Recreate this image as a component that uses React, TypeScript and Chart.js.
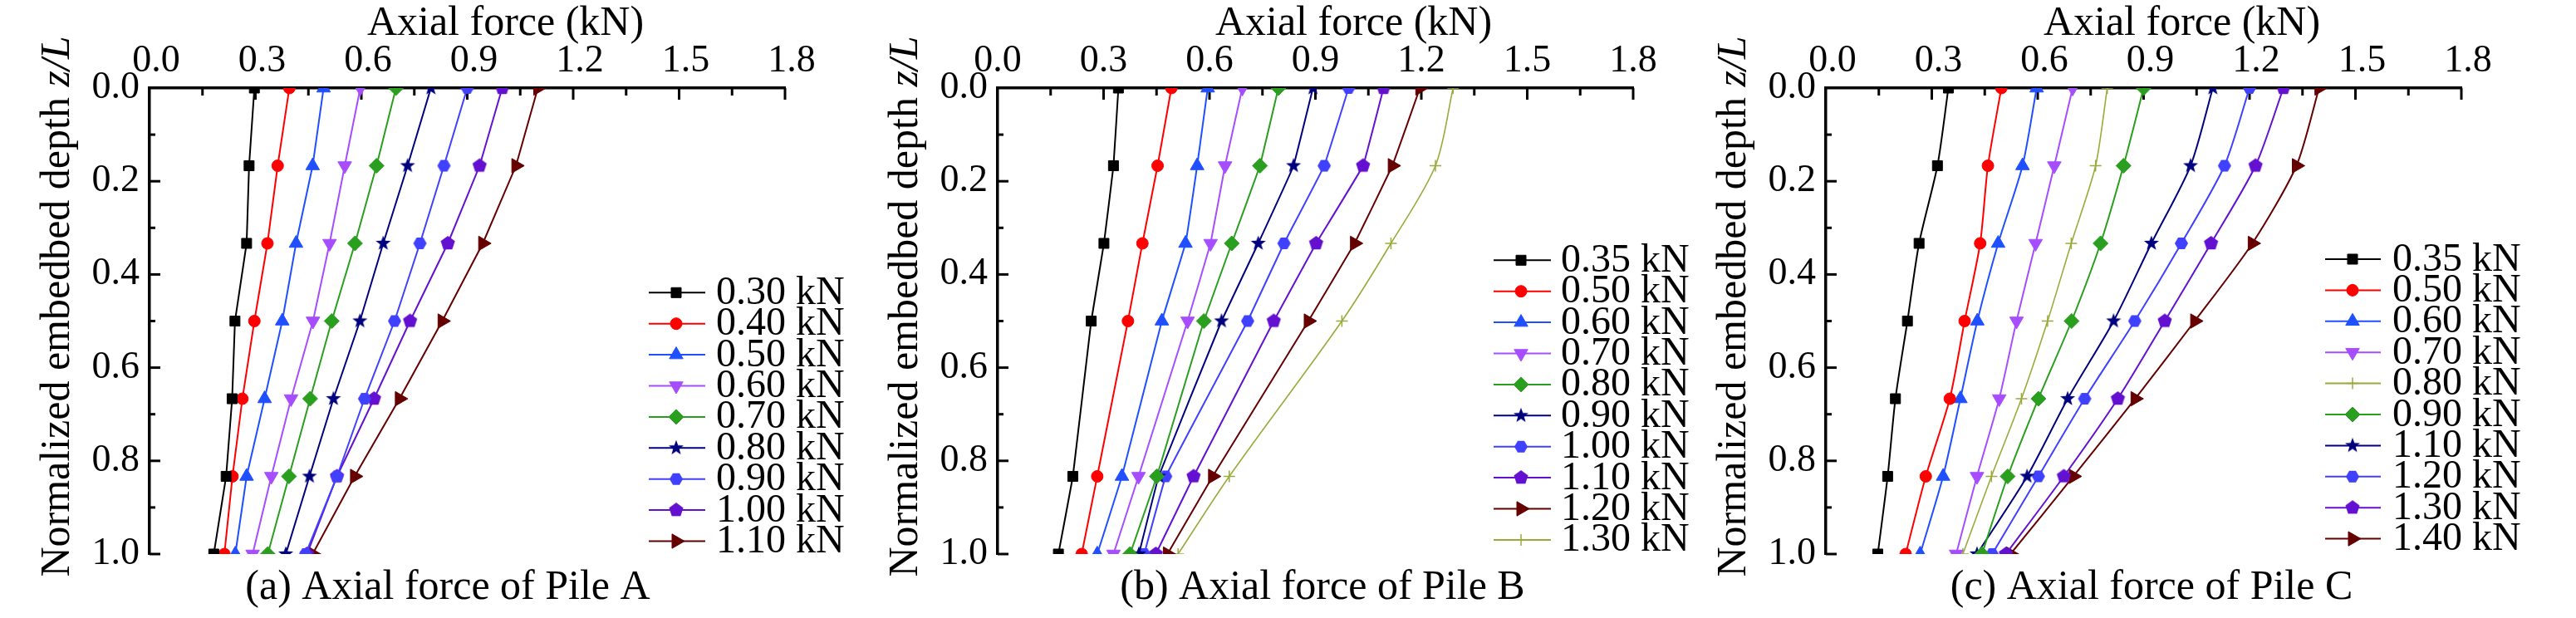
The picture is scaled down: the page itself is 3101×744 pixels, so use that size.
import React, { useEffect, useRef } from 'react';
import { Chart, registerables } from 'chart.js';
import { drawPoint } from 'chart.js/helpers';

Chart.register(...registerables);

const SERIF = "'Liberation Serif', 'Times New Roman', serif";

// ---------- axes ----------
const X_TICKS = [0, 0.3, 0.6, 0.9, 1.2, 1.5, 1.8];
const X_MINOR = [0.15, 0.45, 0.75, 1.05, 1.35, 1.65];
const Y_TICKS = [0, 0.2, 0.4, 0.6, 0.8, 1.0];
const Y_MINOR = [0.1, 0.3, 0.5, 0.7, 0.9];

// normalized embedded depth z/L of the gauges
const DEPTH_7 = [0, 0.1667, 0.3333, 0.5, 0.6667, 0.8333, 1.0];
const DEPTH_6 = [0, 0.1667, 0.3333, 0.5, 0.8333, 1.0];

// ---------- Pile A ----------
const A_LABELS = ['0.30 kN', '0.40 kN', '0.50 kN', '0.60 kN', '0.70 kN', '0.80 kN', '0.90 kN', '1.00 kN', '1.10 kN'];
const A_030 = [0.297, 0.282, 0.275, 0.242, 0.234, 0.217, 0.182];
const A_040 = [0.396, 0.363, 0.334, 0.297, 0.263, 0.235, 0.212];
const A_050 = [0.493, 0.462, 0.415, 0.376, 0.326, 0.275, 0.243];
const A_060 = [0.597, 0.553, 0.510, 0.463, 0.401, 0.345, 0.292];
const A_070 = [0.698, 0.643, 0.582, 0.516, 0.455, 0.395, 0.335];
const A_080 = [0.797, 0.731, 0.662, 0.596, 0.521, 0.453, 0.386];
const A_090 = [0.900, 0.834, 0.766, 0.694, 0.609, 0.531, 0.442];
const A_100 = [0.999, 0.935, 0.845, 0.738, 0.636, 0.531, 0.446];
const A_110 = [1.100, 1.038, 0.944, 0.829, 0.708, 0.581, 0.462];

// ---------- Pile B ----------
const B_LABELS = ['0.35 kN', '0.50 kN', '0.60 kN', '0.70 kN', '0.80 kN', '0.90 kN', '1.00 kN', '1.10 kN', '1.20 kN', '1.30 kN'];
const B_035 = [0.342, 0.328, 0.301, 0.265, 0.213, 0.172];
const B_050 = [0.492, 0.453, 0.410, 0.369, 0.282, 0.238];
const B_060 = [0.595, 0.565, 0.532, 0.465, 0.352, 0.282];
const B_070 = [0.693, 0.644, 0.603, 0.538, 0.399, 0.328];
const B_080 = [0.795, 0.743, 0.663, 0.584, 0.451, 0.375];
const B_090 = [0.893, 0.838, 0.738, 0.634, 0.456, 0.400];
const B_100 = [0.994, 0.925, 0.811, 0.708, 0.476, 0.415];
const B_110 = [1.093, 1.035, 0.902, 0.782, 0.555, 0.448];
const B_120 = [1.196, 1.118, 1.011, 0.880, 0.609, 0.481];
const B_130 = [1.290, 1.240, 1.114, 0.975, 0.656, 0.511];

// ---------- Pile C ----------
const C_LABELS = ['0.35 kN', '0.50 kN', '0.60 kN', '0.70 kN', '0.80 kN', '0.90 kN', '1.10 kN', '1.20 kN', '1.30 kN', '1.40 kN'];
const C_035 = [0.347, 0.316, 0.264, 0.231, 0.197, 0.175, 0.147];
const C_050 = [0.497, 0.459, 0.437, 0.393, 0.351, 0.283, 0.226];
const C_060 = [0.597, 0.557, 0.488, 0.429, 0.381, 0.332, 0.267];
const C_070 = [0.699, 0.647, 0.594, 0.540, 0.491, 0.428, 0.369];
const C_080 = [0.797, 0.764, 0.695, 0.628, 0.554, 0.469, 0.388];
const C_090 = [0.900, 0.843, 0.778, 0.696, 0.602, 0.515, 0.442];
const C_110 = [1.096, 1.033, 0.922, 0.815, 0.685, 0.570, 0.428];
const C_120 = [1.200, 1.129, 1.007, 0.875, 0.733, 0.602, 0.471];
const C_130 = [1.296, 1.217, 1.091, 0.960, 0.827, 0.674, 0.510];
const C_140 = [1.397, 1.333, 1.208, 1.045, 0.876, 0.701, 0.523];

// ---------- styles ----------
const COL = {
  black: '#000000',
  red: '#FF0000',
  blue: '#1F4FFF',
  violet: '#A64DFF',
  green: '#2A9E1E',
  navy: '#00007F',
  blue2: '#4040FF',
  purple: '#6410D0',
  maroon: '#660000',
  olive: '#9AAA3A',
};

type Shape = 'square' | 'circle' | 'triUp' | 'triDown' | 'diamond' | 'star' | 'hexagon' | 'pentagon' | 'triRight' | 'plus';

function shapeCanvas(kind: Shape, color: string): HTMLCanvasElement {
  const s = 22;
  const c = document.createElement('canvas');
  c.width = s;
  c.height = s;
  const g = c.getContext('2d')!;
  g.fillStyle = color;
  g.translate(s / 2, s / 2);
  g.beginPath();
  if (kind === 'star') {
    for (let k = 0; k < 10; k++) {
      const r = k % 2 ? 3.9 : 9.5;
      const a = -Math.PI / 2 + (k * Math.PI) / 5;
      const px = r * Math.cos(a), py = r * Math.sin(a);
      if (k === 0) g.moveTo(px, py); else g.lineTo(px, py);
    }
  } else if (kind === 'hexagon') {
    for (let k = 0; k < 6; k++) {
      const a = (k * Math.PI) / 3;
      const px = 8 * Math.cos(a), py = 8 * Math.sin(a);
      if (k === 0) g.moveTo(px, py); else g.lineTo(px, py);
    }
  } else {
    for (let k = 0; k < 5; k++) {
      const a = -Math.PI / 2 + (k * 2 * Math.PI) / 5;
      const px = 9 * Math.cos(a), py = 9 * Math.sin(a);
      if (k === 0) g.moveTo(px, py); else g.lineTo(px, py);
    }
  }
  g.closePath();
  g.fill();
  return c;
}

function pointOpts(kind: Shape, color: string) {
  switch (kind) {
    case 'square': return { pointStyle: 'rect', radius: 8.5, rotation: 0, borderWidth: 1 };
    case 'circle': return { pointStyle: 'circle', radius: 7, rotation: 0, borderWidth: 1 };
    case 'triUp': return { pointStyle: 'triangle', radius: 9.5, rotation: 0, borderWidth: 1 };
    case 'triDown': return { pointStyle: 'triangle', radius: 9.5, rotation: 180, borderWidth: 1 };
    case 'diamond': return { pointStyle: 'rectRot', radius: 9, rotation: 0, borderWidth: 1 };
    case 'triRight': return { pointStyle: 'triangle', radius: 10, rotation: 90, borderWidth: 1 };
    case 'plus': return { pointStyle: 'cross', radius: 7, rotation: 0, borderWidth: 1.5 };
    default: return { pointStyle: shapeCanvas(kind, color) as any, radius: 9, rotation: 0, borderWidth: 0 };
  }
}

type Series = { label: string; values: number[]; color: string; shape: Shape; tension: number; width: number };

type Panel = {
  canvasLeft: number;
  canvasWidth: number;
  plotLeft: number;
  plotRight: number;
  labelOffset: number;
  legendLineX1: number;
  legendLineX2: number;
  legendMarkerX: number;
  legendTextX: number;
  legendTop: number;
  captionX: number;
  caption: string;
  depths: number[];
  series: Series[];
};

const PLOT_TOP = 106;
const PLOT_BOTTOM = 667;
const H = 744;

function buildPanels(): Panel[] {
  const a = [A_030, A_040, A_050, A_060, A_070, A_080, A_090, A_100, A_110];
  const aCol = [COL.black, COL.red, COL.blue, COL.violet, COL.green, COL.navy, COL.blue2, COL.purple, COL.maroon];
  const aShape: Shape[] = ['square', 'circle', 'triUp', 'triDown', 'diamond', 'star', 'hexagon', 'pentagon', 'triRight'];

  const b = [B_035, B_050, B_060, B_070, B_080, B_090, B_100, B_110, B_120, B_130];
  const bCol = [COL.black, COL.red, COL.blue, COL.violet, COL.green, COL.navy, COL.blue2, COL.purple, COL.maroon, COL.olive];
  const bShape: Shape[] = ['square', 'circle', 'triUp', 'triDown', 'diamond', 'star', 'hexagon', 'pentagon', 'triRight', 'plus'];

  const c = [C_035, C_050, C_060, C_070, C_080, C_090, C_110, C_120, C_130, C_140];
  const cCol = [COL.black, COL.red, COL.blue, COL.violet, COL.olive, COL.green, COL.navy, COL.blue2, COL.purple, COL.maroon];
  const cShape: Shape[] = ['square', 'circle', 'triUp', 'triDown', 'plus', 'diamond', 'star', 'hexagon', 'pentagon', 'triRight'];

  return [
    {
      canvasLeft: 0, canvasWidth: 1040, plotLeft: 180, plotRight: 945, labelOffset: 8,
      legendLineX1: 781, legendLineX2: 849, legendMarkerX: 814, legendTextX: 862, legendTop: 352.3,
      captionX: 539, caption: '(a) Axial force of Pile A', depths: DEPTH_7,
      series: a.map((v, i) => ({ label: A_LABELS[i], values: v, color: aCol[i], shape: aShape[i], tension: 0, width: 2 })),
    },
    {
      canvasLeft: 1040, canvasWidth: 1020, plotLeft: 161, plotRight: 926, labelOffset: 0,
      legendLineX1: 758, legendLineX2: 827, legendMarkerX: 791, legendTextX: 839, legendTop: 313.3,
      captionX: 552, caption: '(b) Axial force of Pile B', depths: DEPTH_6,
      series: b.map((v, i) => ({ label: B_LABELS[i], values: v, color: bCol[i], shape: bShape[i], tension: i === 9 ? 0.3 : 0.05, width: i === 9 ? 1.6 : 2 })),
    },
    {
      canvasLeft: 2060, canvasWidth: 1041, plotLeft: 138, plotRight: 903, labelOffset: 8,
      legendLineX1: 739, legendLineX2: 806, legendMarkerX: 772, legendTextX: 820, legendTop: 312,
      captionX: 530, caption: '(c) Axial force of Pile C', depths: DEPTH_7,
      series: c.map((v, i) => ({ label: C_LABELS[i], values: v, color: cCol[i], shape: cShape[i], tension: 0.25, width: i === 4 ? 1.6 : 2 })),
    },
  ];
}

function panelPlugin(p: Panel) {
  return {
    id: 'panelDecor',
    beforeDatasetsDraw(chart: any) {
      const { ctx, chartArea, scales } = chart;
      ctx.save();
      ctx.strokeStyle = '#000';
      ctx.lineWidth = 3;
      const xt = [...X_TICKS.map((v) => [v, 14]), ...X_MINOR.map((v) => [v, 9])];
      for (const [v, len] of xt) {
        if (v === 0) continue;
        const px = scales.x.getPixelForValue(v);
        ctx.beginPath();
        ctx.moveTo(px, chartArea.top);
        ctx.lineTo(px, chartArea.top + len);
        ctx.stroke();
      }
      const yt = [...Y_TICKS.map((v) => [v, 13]), ...Y_MINOR.map((v) => [v, 7])];
      for (const [v, len] of yt) {
        if (v === 0) continue;
        const py = scales.y.getPixelForValue(v);
        ctx.beginPath();
        ctx.moveTo(chartArea.left, py);
        ctx.lineTo(chartArea.left + len, py);
        ctx.stroke();
      }
      ctx.restore();
    },
    afterDraw(chart: any) {
      const { ctx, chartArea } = chart;
      ctx.save();
      ctx.fillStyle = '#000';
      ctx.textBaseline = 'alphabetic';

      // x axis title
      ctx.font = `50px ${SERIF}`;
      ctx.textAlign = 'center';
      ctx.fillText('Axial force (kN)', (chartArea.left + chartArea.right) / 2 + 46, 42);

      // caption
      ctx.fillText(p.caption, p.captionX, 721);

      // y axis title (rotated)
      ctx.save();
      ctx.translate(chartArea.left - 97, 369);
      ctx.rotate(-Math.PI / 2);
      ctx.textAlign = 'left';
      const t1 = 'Normalized embedbed depth ';
      const t2 = 'z/L';
      ctx.font = `50px ${SERIF}`;
      const w1 = ctx.measureText(t1).width;
      ctx.font = `italic 50px ${SERIF}`;
      const w2 = ctx.measureText(t2).width;
      const x0 = -(w1 + w2) / 2;
      ctx.font = `50px ${SERIF}`;
      ctx.fillText(t1, x0, 0);
      ctx.font = `italic 50px ${SERIF}`;
      ctx.fillText(t2, x0 + w1, 0);
      ctx.restore();

      // legend
      const rowH = 37.4;
      p.series.forEach((s, i) => {
        const y = p.legendTop + i * rowH;
        ctx.strokeStyle = s.color;
        ctx.fillStyle = s.color;
        ctx.lineWidth = 2;
        ctx.beginPath();
        ctx.moveTo(p.legendLineX1, y);
        ctx.lineTo(p.legendLineX2, y);
        ctx.stroke();
        const po = pointOpts(s.shape, s.color);
        ctx.lineWidth = po.borderWidth || 1;
        drawPoint(ctx, po as any, p.legendMarkerX, y);
        ctx.fillStyle = '#000';
        ctx.font = `48px ${SERIF}`;
        ctx.textAlign = 'left';
        ctx.fillText(s.label, p.legendTextX, y + 13.5);
      });
      ctx.restore();
    },
  };
}

function PanelChart({ panel }: { panel: Panel }) {
  const ref = useRef<HTMLCanvasElement>(null);
  useEffect(() => {
    const canvas = ref.current!;
    const datasets = panel.series.map((s) => {
      const po = pointOpts(s.shape, s.color);
      return {
        label: s.label,
        data: s.values.map((x, i) => ({ x, y: panel.depths[i] })),
        showLine: true,
        borderColor: s.color,
        backgroundColor: s.color,
        borderWidth: s.width,
        tension: s.tension,
        pointStyle: po.pointStyle as any,
        pointRadius: po.radius,
        pointRotation: po.rotation,
        pointBorderWidth: po.borderWidth,
        pointBackgroundColor: s.color,
        pointBorderColor: s.color,
        clip: { left: 40, right: 40, top: 0, bottom: 0 },
      };
    });
    const chart = new Chart(canvas, {
      type: 'scatter',
      data: { datasets: datasets as any },
      options: {
        animation: false,
        responsive: false,
        maintainAspectRatio: false,
        events: [],
        layout: {
          padding: { left: 0, top: 0, right: panel.canvasWidth - panel.plotRight, bottom: H - PLOT_BOTTOM },
        },
        plugins: { legend: { display: false }, tooltip: { enabled: false }, title: { display: false } },
        scales: {
          x: {
            type: 'linear',
            position: 'top',
            min: 0,
            max: 1.8,
            grid: { display: false, drawTicks: false },
            border: { display: true, color: '#000', width: 3.5 },
            ticks: {
              color: '#000',
              font: { family: SERIF, size: 46 },
              padding: 4,
              labelOffset: panel.labelOffset,
              autoSkip: false,
              maxRotation: 0,
              callback: (v: any) => Number(v).toFixed(1),
            },
            afterBuildTicks: (s: any) => { s.ticks = X_TICKS.map((value) => ({ value })); },
            afterFit: (s: any) => { s.height = PLOT_TOP; },
          },
          y: {
            type: 'linear',
            position: 'left',
            reverse: true,
            min: 0,
            max: 1,
            grid: { display: false, drawTicks: false },
            border: { display: true, color: '#000', width: 3.5 },
            ticks: {
              color: '#000',
              font: { family: SERIF, size: 46 },
              padding: 12,
              autoSkip: false,
              callback: (v: any) => Number(v).toFixed(1),
            },
            afterBuildTicks: (s: any) => { s.ticks = Y_TICKS.map((value) => ({ value })); },
            afterFit: (s: any) => { s.width = panel.plotLeft; },
          },
        },
      } as any,
      plugins: [panelPlugin(panel) as any],
    });
    return () => chart.destroy();
  }, [panel]);
  return (
    <canvas
      ref={ref}
      width={panel.canvasWidth}
      height={H}
      style={{ position: 'absolute', left: panel.canvasLeft, top: 0, width: panel.canvasWidth, height: H }}
    />
  );
}

const PANELS = buildPanels();

export default function App() {
  useEffect(() => {
    document.body.style.margin = '0';
    document.body.style.background = '#fff';
  }, []);
  return (
    <div style={{ position: 'relative', width: 3101, height: H, overflow: 'hidden', background: '#fff' }}>
      {PANELS.map((p, i) => (
        <PanelChart key={i} panel={p} />
      ))}
    </div>
  );
}
